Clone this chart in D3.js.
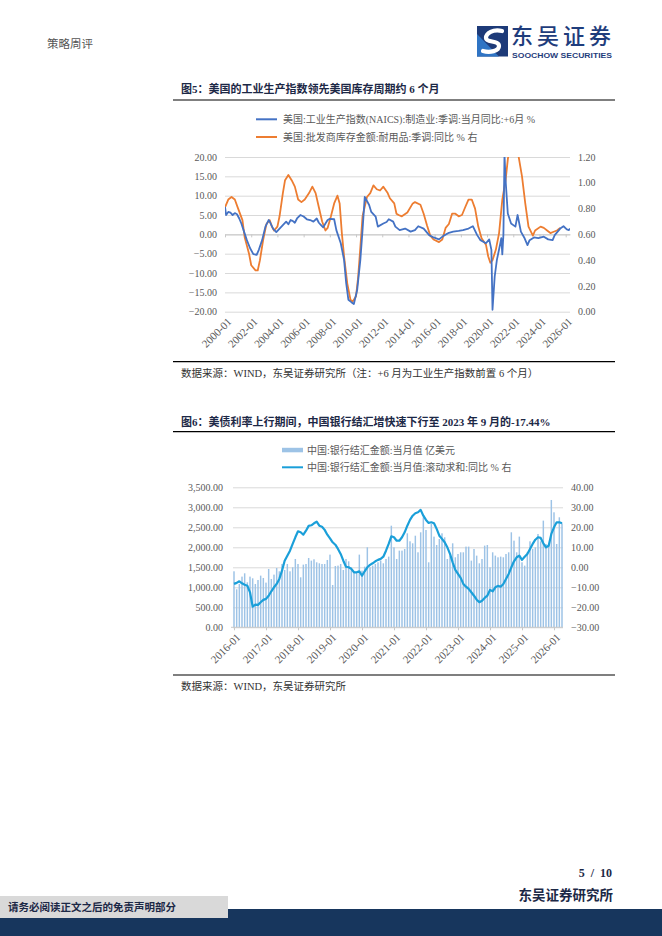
<!DOCTYPE html>
<html>
<head>
<meta charset="utf-8">
<script src="https://cdn.jsdelivr.net/npm/d3@7"></script>
<style>
  html, body { margin: 0; padding: 0; background: #fff; }
  svg text { font-family: "Liberation Serif", "Noto Sans CJK SC", serif; }
</style>
</head>
<body>
<svg id="page" width="662" height="936"></svg>
<script>
// ---------- 图5 数据 ----------
// 美国:工业生产指数(NAICS):制造业:季调:当月同比:+6月 (左轴, %)
const ipYoY = [
  ["2000-01", 7.1], ["2000-02", 5.0], ["2000-04", 5.8], ["2000-06", 5.6], ["2000-08", 5.0], ["2000-10", 5.5],
  ["2000-12", 5.2], ["2001-02", 4.1], ["2001-04", 2.8], ["2001-06", 1.1], ["2001-09", -1.5], ["2001-12", -3.6],
  ["2002-03", -5.1], ["2002-06", -5.3], ["2002-08", -4.0], ["2002-11", -1.5], ["2003-02", 2.0], ["2003-05", 3.7],
  ["2003-06", 3.3], ["2003-09", 1.5], ["2003-12", 0.6], ["2004-03", 1.5], ["2004-06", 2.4], ["2004-09", 3.3],
  ["2004-11", 2.6], ["2005-01", 3.7], ["2005-03", 3.5], ["2005-05", 3.0], ["2005-07", 4.1], ["2005-10", 5.0],
  ["2006-01", 4.6], ["2006-04", 3.9], ["2006-07", 3.7], ["2006-10", 3.3], ["2007-01", 4.1], ["2007-03", 3.0],
  ["2007-05", 2.4], ["2007-07", 1.8], ["2007-09", 2.8], ["2007-11", 3.7], ["2008-01", 4.0], ["2008-05", 3.9],
  ["2008-07", 1.1], ["2008-11", -2.3], ["2009-02", -6.6], ["2009-04", -12.6], ["2009-06", -16.9], ["2009-09", -17.6],
  ["2009-11", -18.0], ["2010-02", -14.4], ["2010-05", -6.6], ["2010-07", 1.1], ["2010-09", 9.7], ["2011-01", 7.6],
  ["2011-03", 5.8], ["2011-07", 4.6], ["2011-09", 2.0], ["2012-02", 2.8], ["2012-05", 3.2], ["2012-07", 3.9],
  ["2012-11", 3.3], ["2013-01", 2.0], ["2013-05", 1.1], ["2013-10", 1.5], ["2014-03", 0.7], ["2014-07", 1.1],
  ["2014-10", 2.1], ["2015-03", 1.5], ["2015-08", -0.2], ["2015-12", -0.8], ["2016-05", -1.3], ["2016-09", -0.4],
  ["2017-02", 0.4], ["2017-06", 0.7], ["2017-11", 0.9], ["2018-03", 1.1], ["2018-08", 1.5], ["2018-12", 2.1],
  ["2019-04", -0.2], ["2019-07", -1.5], ["2019-12", -2.3], ["2020-03", -1.3], ["2020-05", -4.0], ["2020-06", -19.5],
  ["2020-08", -10.9], ["2020-10", -6.6], ["2021-01", -2.5], ["2021-02", -1.0], ["2021-03", -5.2], ["2021-04", 0.0],
  ["2021-05", 20.5], ["2021-06", 14.0], ["2021-08", 5.4], ["2021-11", 2.8], ["2022-03", 2.0], ["2022-05", 5.0],
  ["2022-08", 0.7], ["2022-11", -0.8], ["2023-02", -2.8], ["2023-04", -1.5], ["2023-08", -0.8], ["2023-12", -1.0],
  ["2024-05", -0.6], ["2024-09", -1.3], ["2025-01", -1.5], ["2025-03", -0.2], ["2025-08", 1.5], ["2025-11", 2.1],
  ["2026-02", 1.3], ["2026-04", 1.1], ["2026-05", 1.5]
];

// 美国:批发商库存金额:耐用品:季调:同比 (右轴)
const durableInv = [
  ["2000-01", 0.81], ["2000-04", 0.87], ["2000-07", 0.89], ["2000-10", 0.87], ["2001-01", 0.80], ["2001-05", 0.71],
  ["2001-07", 0.58], ["2001-11", 0.45], ["2002-01", 0.36], ["2002-05", 0.32], ["2002-07", 0.32], ["2002-09", 0.40],
  ["2002-12", 0.56], ["2003-03", 0.68], ["2003-06", 0.71], ["2003-08", 0.66], ["2003-10", 0.63], ["2004-01", 0.66],
  ["2004-03", 0.74], ["2004-06", 0.92], ["2004-08", 1.02], ["2004-11", 1.06], ["2005-02", 1.02], ["2005-05", 0.97],
  ["2005-08", 0.87], ["2005-11", 0.85], ["2006-02", 0.87], ["2006-06", 0.92], ["2006-09", 0.97], ["2006-12", 0.92],
  ["2007-03", 0.81], ["2007-06", 0.70], ["2007-09", 0.63], ["2007-11", 0.65], ["2008-02", 0.74], ["2008-05", 0.84],
  ["2008-08", 0.90], ["2008-10", 0.84], ["2008-12", 0.61], ["2009-02", 0.43], ["2009-05", 0.22], ["2009-08", 0.09],
  ["2009-10", 0.08], ["2010-01", 0.12], ["2010-03", 0.27], ["2010-05", 0.50], ["2010-07", 0.74], ["2010-11", 0.89],
  ["2011-02", 0.92], ["2011-05", 0.98], ["2011-08", 0.95], ["2011-11", 0.94], ["2012-02", 0.97], ["2012-06", 0.92],
  ["2012-08", 0.88], ["2012-12", 0.84], ["2013-02", 0.76], ["2013-04", 0.75], ["2013-07", 0.74], ["2013-12", 0.77],
  ["2014-05", 0.84], ["2014-07", 0.85], ["2014-12", 0.83], ["2015-03", 0.76], ["2015-06", 0.67], ["2015-09", 0.59],
  ["2015-12", 0.56], ["2016-05", 0.54], ["2016-08", 0.56], ["2016-11", 0.65], ["2017-02", 0.68], ["2017-05", 0.76],
  ["2017-08", 0.76], ["2017-11", 0.74], ["2018-02", 0.75], ["2018-05", 0.81], ["2018-08", 0.87], ["2018-11", 0.87],
  ["2019-02", 0.80], ["2019-05", 0.66], ["2019-08", 0.57], ["2019-12", 0.52], ["2020-02", 0.43], ["2020-04", 0.38],
  ["2020-06", 0.40], ["2020-09", 0.48], ["2020-12", 0.61], ["2021-03", 0.87], ["2021-06", 1.02], ["2021-08", 1.18],
  ["2021-10", 1.30], ["2022-02", 1.45], ["2022-06", 1.20], ["2022-09", 1.05], ["2022-12", 0.84], ["2023-03", 0.66],
  ["2023-07", 0.59], ["2023-09", 0.63], ["2024-02", 0.66], ["2024-05", 0.65], ["2024-08", 0.63], ["2024-11", 0.61],
  ["2025-02", 0.62], ["2025-05", 0.63], ["2025-08", 0.65]
];

const c1TickLabels = ["2000-01", "2002-01", "2004-01", "2006-01", "2008-01", "2010-01", "2012-01",
  "2014-01", "2016-01", "2018-01", "2020-01", "2022-01", "2024-01", "2026-01"];
const c1LeftTicks = [-20, -15, -10, -5, 0, 5, 10, 15, 20];
const c1RightTicks = [0, 0.2, 0.4, 0.6, 0.8, 1.0, 1.2];

// ---------- 图6 数据 ----------
const fxStartMonth = "2016-01";
// 中国:银行结汇金额:当月值 (亿美元), 2016-01 起逐月
const fxSettle = [
  1400, 950, 1083, 1267, 1350, 1125, 1267, 1225, 1083, 1183, 1292, 1233,
  1117, 1458, 1208, 1317, 1483, 1400, 1583, 1433, 1583, 1400, 1500, 1708,
  1583, 1250, 1567, 1583, 1733, 1667, 1700, 1625, 1600, 1583, 1583, 1683,
  1817, 1058, 1533, 1542, 1583, 1433, 1708, 1650, 1500, 1400, 1375, 1817,
  1417, 1517, 2000, 1500, 1542, 1583, 1625, 1667, 1600, 1708, 1767, 2540,
  2000, 1708, 1917, 1917, 1958, 2350, 2150, 2100, 2290, 1875, 2375, 2750,
  2433, 1625, 2583, 2267, 2058, 2208, 2350, 2250, 1708, 1792, 2100, 1750,
  1833, 1875, 1875, 2017, 2017, 1667, 1958, 1792, 1600, 1708, 2042, 2058,
  1500, 1875, 1792, 1750, 1767, 1750, 1833, 1875, 2375, 2167, 1875, 2267,
  1625, 1542, 1875, 2150, 1958, 2000, 2333, 2150, 2667, 2083, 2083, 3183,
  2875, 2083, 2750, 2600
];
// 中国:银行结汇金额:当月值:滚动求和:同比 (右轴, %)
const fxRollingYoY = [
  -8.3, -7.8, -7.0, -8.0, -8.7, -9.2, -12.5, -19.7, -18.7, -18.8, -17.5, -16.3,
  -15.8, -14.2, -12.0, -10.0, -8.3, -5.8, -1.7, 3.3, 5.8, 8.3, 11.7, 15.0,
  18.0, 17.5, 16.3, 18.3, 20.7, 21.0, 22.0, 22.8, 20.8, 20.3, 18.7, 16.3,
  14.5, 12.5, 11.3, 9.2, 6.7, 3.3, 0.3, 0.0, -0.8, -2.5, -2.5, -2.0,
  -4.2, -2.0, 0.0, 1.2, 2.0, 3.0, 3.7, 4.2, 5.3, 8.3, 11.7, 15.5,
  15.0, 13.3, 13.3, 15.0, 17.5, 20.8, 23.7, 25.8, 27.0, 27.5, 28.7, 25.8,
  23.7, 22.2, 22.5, 22.0, 19.2, 15.8, 14.2, 12.5, 10.0, 6.7, 2.5, -1.3,
  -3.3, -5.3, -8.3, -9.7, -10.8, -12.5, -14.2, -16.2, -17.44, -16.7, -15.3, -14.2,
  -11.3, -12.0, -10.0, -9.3, -9.7, -8.3, -5.8, -3.3, 0.0, 3.0, 5.0, 5.8,
  3.7, 5.3, 6.7, 9.2, 11.7, 13.8, 15.0, 14.7, 12.0, 10.0, 10.8, 16.7,
  20.0, 22.5, 22.5, 22.0
];

const c2TickLabels = ["2016-01", "2017-01", "2018-01", "2019-01", "2020-01", "2021-01",
  "2022-01", "2023-01", "2024-01", "2025-01", "2026-01"];
const c2LeftTicks = [0, 500, 1000, 1500, 2000, 2500, 3000, 3500];
const c2RightTicks = [-30, -20, -10, 0, 10, 20, 30, 40];

// ---------- 公共 ----------
const svg = d3.select("#page");
const parseMonth = d3.timeParse("%Y-%m");
const fmtMonth = d3.timeFormat("%Y-%m");
const gridColor = "#d9d9d9";
const labelColor = "#595959";
const cjk = "\"Noto Sans CJK SC\", sans-serif";

function styleAxis(g) {
  g.select(".domain").remove();
  g.selectAll(".tick line").attr("stroke", gridColor);
  g.selectAll("text").attr("fill", labelColor).style("font-size", "10px");
}

// 斜 45 度的日期标签
function rotateLabels(g) {
  g.selectAll("text").attr("fill", labelColor).style("font-size", "11px")
    .attr("x", 0).attr("y", 0).attr("dy", "0.35em")
    .attr("text-anchor", "end").attr("transform", "translate(4,8) rotate(-45)");
}

// ---------- 页眉 ----------
svg.append("text").attr("x", 47).attr("y", 48)
  .style("font-family", cjk).style("font-size", "11.5px").attr("fill", "#555")
  .text("策略周评");

const logo = svg.append("g").attr("transform", "translate(477,26)");
logo.append("rect").attr("width", 31).attr("height", 30.5).attr("fill", "#1d3a78");
logo.append("path").attr("d", "M0,30.5 L0,8 L22,30.5 Z").attr("fill", "#2f74c4");
logo.append("path")
  .attr("d", "M25,5 C16,3 9,7 9,12 C9,17 22,14 22,20 C22,25 13,27 6,25")
  .attr("fill", "none").attr("stroke", "#fff").attr("stroke-width", 4.2).attr("stroke-linecap", "round");
svg.append("text").attr("x", 511).attr("y", 43.5)
  .style("font-family", cjk).style("font-size", "22px").style("font-weight", 500)
  .style("letter-spacing", "4px").attr("fill", "#1f3d7c")
  .text("东吴证券");
svg.append("text").attr("x", 512).attr("y", 57.5)
  .style("font-family", "\"Liberation Sans\", sans-serif").style("font-size", "7.5px").style("font-weight", "bold")
  .attr("fill", "#1f3d7c").attr("textLength", 100).attr("lengthAdjust", "spacingAndGlyphs")
  .text("SOOCHOW SECURITIES");

// ---------- 图5 ----------
svg.append("text").attr("x", 181).attr("y", 93)
  .style("font-size", "11px").style("font-weight", "bold").attr("fill", "#1c2846")
  .text("图5：美国的工业生产指数领先美国库存周期约 6 个月");
svg.append("line").attr("x1", 173).attr("x2", 615).attr("y1", 100).attr("y2", 100)
  .attr("stroke", "#000").attr("stroke-width", 1.2);

const leg1 = [
  { label: "美国:工业生产指数(NAICS):制造业:季调:当月同比:+6月 %", color: "#4472c4", y: 119.3 },
  { label: "美国:批发商库存金额:耐用品:季调:同比 % 右", color: "#ed7d31", y: 137 }
];
leg1.forEach(d => {
  svg.append("line").attr("x1", 256).attr("x2", 277).attr("y1", d.y).attr("y2", d.y)
    .attr("stroke", d.color).attr("stroke-width", 2);
  svg.append("text").attr("x", 283).attr("y", d.y + 3.5)
    .style("font-size", "10px").attr("fill", labelColor).text(d.label);
});

const c1 = { left: 225, right: 570, top: 157, bottom: 311.7 };
const x1 = d3.scaleTime().domain([parseMonth("2000-01"), parseMonth("2026-05")]).range([c1.left, c1.right]);
const y1L = d3.scaleLinear().domain([-20, 20]).range([c1.bottom, c1.top]);
const y1R = d3.scaleLinear().domain([0, 1.2]).range([c1.bottom, c1.top]);

svg.append("g").attr("transform", `translate(${c1.left},0)`)
  .call(d3.axisLeft(y1L).tickValues(c1LeftTicks).tickSize(-(c1.right - c1.left)).tickPadding(8).tickFormat(d3.format(".2f")))
  .call(styleAxis);

svg.append("g").attr("transform", `translate(${c1.right},0)`)
  .call(d3.axisRight(y1R).tickValues(c1RightTicks).tickSize(0).tickPadding(8).tickFormat(d3.format(".2f")))
  .call(styleAxis);

// 横轴穿过 0 线, 刻度线在 0 处, 标签在底部
svg.append("g").attr("transform", `translate(0,${y1L(0)})`)
  .call(d3.axisBottom(x1).tickValues(c1TickLabels.map(parseMonth)).tickSize(3).tickSizeOuter(0).tickFormat(""))
  .call(g => {
    g.select(".domain").attr("stroke", "#c8c8c8");
    g.selectAll(".tick line").attr("stroke", "#c8c8c8");
  });

svg.append("g").attr("transform", `translate(0,${c1.bottom})`)
  .call(d3.axisBottom(x1).tickValues(c1TickLabels.map(parseMonth)).tickSize(0).tickFormat(fmtMonth))
  .call(g => { g.select(".domain").remove(); rotateLabels(g); });

svg.append("clipPath").attr("id", "clip1").append("rect")
  .attr("x", c1.left).attr("y", c1.top).attr("width", c1.right - c1.left).attr("height", c1.bottom - c1.top);

const line1L = d3.line().x(d => x1(parseMonth(d[0]))).y(d => y1L(d[1]));
const line1R = d3.line().x(d => x1(parseMonth(d[0]))).y(d => y1R(d[1]));

const plot1 = svg.append("g").attr("clip-path", "url(#clip1)");
plot1.append("path").datum(durableInv).attr("d", line1R)
  .attr("fill", "none").attr("stroke", "#ed7d31").attr("stroke-width", 1.8).attr("stroke-linejoin", "round");
plot1.append("path").datum(ipYoY).attr("d", line1L)
  .attr("fill", "none").attr("stroke", "#4472c4").attr("stroke-width", 1.8).attr("stroke-linejoin", "round");

svg.append("line").attr("x1", 173).attr("x2", 615).attr("y1", 361.7).attr("y2", 361.7)
  .attr("stroke", "#000").attr("stroke-width", 1.2);
svg.append("text").attr("x", 181).attr("y", 376.5)
  .style("font-size", "10.5px").attr("fill", "#333")
  .text("数据来源：WIND，东吴证券研究所（注：+6 月为工业生产指数前置 6 个月）");

// ---------- 图6 ----------
svg.append("text").attr("x", 181).attr("y", 425.5)
  .style("font-size", "11px").style("font-weight", "bold").attr("fill", "#1c2846")
  .text("图6：美债利率上行期间，中国银行结汇增快速下行至 2023 年 9 月的-17.44%");
svg.append("line").attr("x1", 173).attr("x2", 615).attr("y1", 431.7).attr("y2", 431.7)
  .attr("stroke", "#000").attr("stroke-width", 1.2);

const barColor = "#9dc3e6";
const lineColor = "#1a9fd9";

svg.append("rect").attr("x", 282).attr("y", 447.8).attr("width", 21).attr("height", 4.5).attr("fill", barColor);
svg.append("text").attr("x", 307).attr("y", 453.5)
  .style("font-size", "10px").attr("fill", labelColor).text("中国:银行结汇金额:当月值 亿美元");
svg.append("line").attr("x1", 282).attr("x2", 303).attr("y1", 467.3).attr("y2", 467.3)
  .attr("stroke", lineColor).attr("stroke-width", 2);
svg.append("text").attr("x", 307).attr("y", 470.8)
  .style("font-size", "10px").attr("fill", labelColor).text("中国:银行结汇金额:当月值:滚动求和:同比 % 右");

const c2 = { left: 233, right: 563, top: 487.3, bottom: 627.3 };
const fxMonths = d3.timeMonth.range(parseMonth(fxStartMonth), d3.timeMonth.offset(parseMonth(fxStartMonth), fxSettle.length)).map(fmtMonth);
const x2 = d3.scaleBand().domain(fxMonths).range([c2.left, c2.right]).paddingInner(0.45).paddingOuter(0.1);
const y2L = d3.scaleLinear().domain([0, 3500]).range([c2.bottom, c2.top]);
const y2R = d3.scaleLinear().domain([-30, 40]).range([c2.bottom, c2.top]);
const xc = m => x2(m) + x2.bandwidth() / 2;

svg.append("g").attr("transform", `translate(${c2.left},0)`)
  .call(d3.axisLeft(y2L).tickValues(c2LeftTicks).tickSize(-(c2.right - c2.left)).tickPadding(10).tickFormat(d3.format(",.2f")))
  .call(styleAxis);

svg.append("g").attr("transform", `translate(${c2.right},0)`)
  .call(d3.axisRight(y2R).tickValues(c2RightTicks).tickSize(0).tickPadding(8).tickFormat(d3.format(".2f")))
  .call(styleAxis);

svg.append("g").selectAll("rect").data(fxSettle).join("rect")
  .attr("x", (d, i) => x2(fxMonths[i]))
  .attr("y", d => y2L(d))
  .attr("width", x2.bandwidth())
  .attr("height", d => c2.bottom - y2L(d))
  .attr("fill", barColor);

svg.append("g").attr("transform", `translate(0,${c2.bottom})`)
  .call(d3.axisBottom(d3.scalePoint().domain(fxMonths).range([xc(fxMonths[0]), xc(fxMonths[fxMonths.length - 1])]))
    .tickValues(c2TickLabels).tickSize(3).tickSizeOuter(0))
  .call(g => {
    g.select(".domain").attr("stroke", "#c8c8c8").attr("d", `M${c2.left - 2},0H${c2.right}`);
    g.selectAll(".tick line").attr("stroke", "#c8c8c8");
    rotateLabels(g);
  });

svg.append("path").datum(fxRollingYoY)
  .attr("d", d3.line().x((d, i) => xc(fxMonths[i])).y(d => y2R(d)))
  .attr("fill", "none").attr("stroke", lineColor).attr("stroke-width", 2.2).attr("stroke-linejoin", "round");

svg.append("line").attr("x1", 173).attr("x2", 615).attr("y1", 675).attr("y2", 675)
  .attr("stroke", "#000").attr("stroke-width", 1.2);
svg.append("text").attr("x", 181).attr("y", 689.5)
  .style("font-size", "10.5px").attr("fill", "#333")
  .text("数据来源：WIND，东吴证券研究所");

// ---------- 页脚 ----------
svg.append("text").attr("x", 612).attr("y", 877).attr("text-anchor", "end")
  .style("font-size", "12px").style("font-weight", "bold").style("word-spacing", "3px").attr("fill", "#1c2846")
  .text("5 / 10");
svg.append("text").attr("x", 613).attr("y", 900).attr("text-anchor", "end")
  .style("font-size", "13.5px").style("font-weight", "bold").attr("fill", "#1c2846")
  .text("东吴证券研究所");
svg.append("rect").attr("x", 0).attr("y", 909).attr("width", 662).attr("height", 27).attr("fill", "#17365d");
svg.append("rect").attr("x", 0).attr("y", 896).attr("width", 228).attr("height", 22).attr("fill", "#d9d9d9");
svg.append("text").attr("x", 8).attr("y", 911)
  .style("font-size", "10.5px").style("font-weight", "bold").attr("fill", "#1c2846")
  .text("请务必阅读正文之后的免责声明部分");
</script>
</body>
</html>
